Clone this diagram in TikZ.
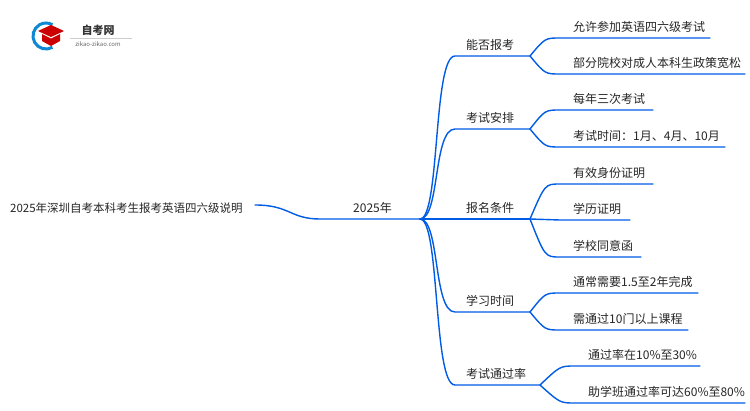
\documentclass[tikz,border=0pt]{standalone}
\usepackage{fontspec}
\setmainfont{Noto Sans CJK SC}
\begin{document}
\begin{tikzpicture}[x=1pt,y=-1pt,
  ln/.style={draw=blue!60!cyan!90!black,line width=1.4pt,line cap=round},
  txt/.style={font=\fontsize{12}{13}\selectfont,inner sep=0pt,anchor=south west,text=black!85}]
\useasboundingbox (0,0) rectangle (750,410);
\fill[white] (0,0) rectangle (750,410);
% logo
\draw[line width=3pt,color=cyan!70!blue] (46,36) ++(60:13) arc[start angle=60,end angle=300,radius=13];
\fill[red!80!black] (38,31) -- (51,25) -- (64,31) -- (51,37) -- cycle;
\fill[red!80!black] (42,34) -- (42,41) -- (51,46) -- (60,41) -- (60,34) -- (51,38.5) -- cycle;
\node[font=\bfseries\fontsize{11}{12}\selectfont,text=black!80] (logoa) at (98,30) {自考网};
\draw[black!20,line width=0.4pt] (70,38) -- (132,38);
\node[font=\fontsize{6}{7}\selectfont,text=black!60] (logob) at (98,44) {zikao-zikao.com};
% root
\node[txt,font=\fontsize{11.5}{13}\selectfont] (root) at (10,214) {2025年深圳自考本科考生报考英语四六级说明};
\coordinate (r0) at (255,205);
\coordinate (r1) at (320,219);
\coordinate (hub) at (420,219);
\node[txt] (y25) at (353,214) {2025年};
\draw[ln] (r0) .. controls (290,205) and (290,219) .. (r1) -- (hub);
% level 1
\foreach \n/\t/\y/\e in {a/能否报考/56/530,b/考试安排/129/530,c/报名条件/219/530,d/学习时间/312/530,e/考试通过率/385/540}{
  \coordinate (\n s) at (455,\y);
  \coordinate (\n e) at (\e,\y);
  \node[txt] (\n) at (466,\y-5) {\t};
  \draw[ln] (hub) .. controls (440,219) and (433,\y) .. (\n s) -- (\n e);
}
% level 2
\foreach \p/\n/\t/\y/\x/\ex in {
 a/a1/允许参加英语四六级考试/38/560/710,
 a/a2/部分院校对成人本科生政策宽松/74/560/745,
 b/b1/每年三次考试/110/560/653,
 b/b2/考试时间：1月、4月、10月/147/560/725,
 c/c1/有效身份证明/184/560/653,
 c/c2/学历证明/220/560/630,
 c/c3/学校同意函/257/560/641,
 d/d1/通常需要1.5至2年完成/293/560/698,
 d/d2/需通过10门以上课程/330/560/688,
 e/e1/通过率在10\%至30\%/366/575/700,
 e/e2/助学班通过率可达60\%至80\%/403/575/745}{
  \coordinate (\n s) at (\x,\y);
  \coordinate (\n e) at (\ex,\y);
  \node[txt] (\n) at (\x+13,\y-5) {\t};
  \draw[ln] (\p e) .. controls (\x-15,{0.5*(\y)+0.5*(\y)}) and (\x-15,\y) .. (\n s) -- (\n e);
}
\end{tikzpicture}
\end{document}
